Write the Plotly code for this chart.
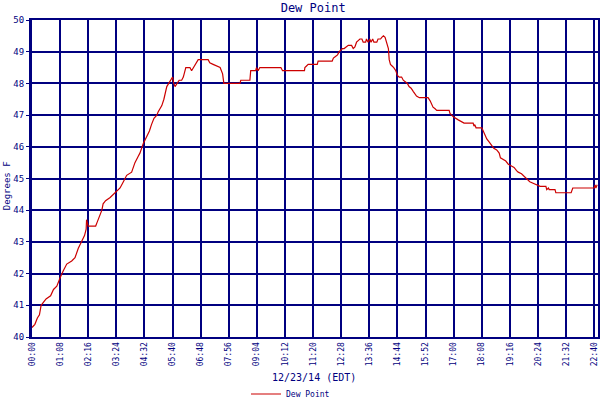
import plotly.graph_objects as go

# --- дані ---
times = [
    "00:00", "00:07", "00:13", "00:18", "00:22", "00:27", "00:34", "00:45", "00:52", "01:00",
    "01:05", "01:09", "01:16", "01:24", "01:36", "01:44", "01:52", "02:00", "02:07", "02:11",
    "02:12", "02:16", "02:34", "02:37", "02:44", "02:49", "02:52", "02:58", "03:09", "03:17",
    "03:23", "03:33", "03:41", "03:49", "04:01", "04:09", "04:17", "04:21", "04:29", "04:37",
    "04:44", "04:49", "04:55", "05:02", "05:05", "05:14", "05:19", "05:26", "05:30", "05:35",
    "05:40", "05:43", "05:46", "05:51", "05:56", "06:02", "06:06", "06:12", "06:22", "06:26",
    "06:30", "06:34", "06:38", "06:42", "07:06", "07:10", "07:18", "07:35", "07:41", "07:44",
    "08:23", "08:25", "08:47", "08:49", "09:01", "09:03", "09:07", "09:11", "10:02", "10:06",
    "10:59", "11:00", "11:04", "11:08", "11:30", "11:32", "12:06", "12:09", "12:14", "12:19",
    "12:23", "12:31", "12:35", "12:45", "12:53", "12:57", "13:01", "13:05", "13:09", "13:13",
    "13:18", "13:21", "13:27", "13:29", "13:33", "13:37", "13:40", "13:44", "13:47", "13:54",
    "13:57", "14:03", "14:06", "14:10", "14:14", "14:16", "14:19", "14:22", "14:24", "14:27",
    "14:31", "14:35", "14:40", "14:42", "14:44", "14:48", "14:54", "14:58", "15:02", "15:08",
    "15:12", "15:17", "15:22", "15:26", "15:30", "15:37", "15:58", "16:03", "16:07", "16:10",
    "16:15", "16:19", "16:49", "16:51", "16:55", "16:59", "17:11", "17:25", "17:47", "17:49",
    "17:51", "17:54", "18:08", "18:11", "18:15", "18:20", "18:26", "18:32", "18:37", "18:44",
    "18:50", "18:53", "19:00", "19:06", "19:12", "19:20", "19:26", "19:32", "19:36", "19:44",
    "19:52", "19:58", "20:04", "20:12", "20:22", "20:29", "20:43", "20:45", "20:49", "20:51",
    "21:05", "21:07", "21:44", "21:48", "22:40", "22:42", "22:44", "22:47",
]
dew_point = [
    40.3, 40.4, 40.6, 40.7, 41.0, 41.1, 41.2, 41.3, 41.5, 41.6,
    41.8, 41.9, 42.1, 42.3, 42.4, 42.5, 42.8, 43.0, 43.2, 43.4,
    43.7, 43.5, 43.5, 43.6, 43.8, 44.0, 44.2, 44.3, 44.4, 44.5,
    44.6, 44.7, 44.9, 45.1, 45.2, 45.5, 45.7, 45.8, 46.1, 46.3,
    46.5, 46.7, 46.9, 47.0, 47.1, 47.3, 47.5, 47.9, 48.0, 48.1,
    48.2, 48.0, 47.9, 48.0, 48.1, 48.1, 48.2, 48.5, 48.5, 48.4,
    48.5, 48.6, 48.7, 48.75, 48.75, 48.65, 48.6, 48.5, 48.3, 48.0,
    48.0, 48.1, 48.1, 48.4, 48.4, 48.5, 48.4, 48.5, 48.5, 48.4,
    48.4, 48.5, 48.55, 48.6, 48.6, 48.7, 48.7, 48.8, 48.85, 48.9,
    49.0, 49.1, 49.1, 49.2, 49.2, 49.1, 49.15, 49.3, 49.35, 49.4,
    49.4, 49.3, 49.3, 49.4, 49.3, 49.4, 49.3, 49.4, 49.3, 49.3,
    49.4, 49.4, 49.45, 49.5, 49.45, 49.35, 49.25, 49.1, 48.75, 48.6,
    48.55, 48.5, 48.4, 48.3, 48.25, 48.2, 48.2, 48.1, 48.05, 48.0,
    47.9, 47.85, 47.75, 47.65, 47.6, 47.55, 47.55, 47.45, 47.35, 47.25,
    47.2, 47.15, 47.15, 47.05, 47.0, 46.95, 46.85, 46.75, 46.75, 46.65,
    46.7, 46.6, 46.6, 46.5, 46.4, 46.25, 46.15, 46.05, 45.95, 45.9,
    45.8, 45.65, 45.6, 45.55, 45.45, 45.4, 45.35, 45.25, 45.2, 45.15,
    45.05, 45.0, 44.9, 44.85, 44.8, 44.75, 44.75, 44.65, 44.7, 44.65,
    44.65, 44.55, 44.55, 44.7, 44.7, 44.8, 44.7, 44.8,
]
tick_labels = [
    "00:00", "01:08", "02:16", "03:24", "04:32", "05:40", "06:48", "07:56",
    "09:04", "10:12", "11:20", "12:28", "13:36", "14:44", "15:52", "17:00",
    "18:08", "19:16", "20:24", "21:32", "22:40", "22:47",
]


def to_min(s):
    h, m = s.split(":")
    return int(h) * 60 + int(m)


x = [to_min(t) for t in times]
navy = "#000080"
mono = "DejaVu Sans Mono"

fig = go.Figure()
fig.add_trace(go.Scatter(x=x, y=dew_point, mode="lines", name="Dew Point",
                         line=dict(color="#CC0000", width=1.2)))

fig.update_layout(
    width=600, height=400,
    margin=dict(l=32, r=2, t=20, b=63, autoexpand=False),
    paper_bgcolor="white", plot_bgcolor="white",
    title=dict(text="Dew Point", xref="container", x=0.522, xanchor="center",
               yref="container", y=0.98, yanchor="middle",
               font=dict(family=mono, size=12, color=navy)),
    font=dict(family=mono, color=navy),
    showlegend=True,
    legend=dict(orientation="h", xref="container", x=0.41, xanchor="left",
                yref="container", y=0.015, yanchor="middle",
                font=dict(family=mono, size=8, color=navy), itemwidth=30),
)

# підписи осей
fig.add_annotation(text="Degrees F", xref="paper", yref="paper", x=-0.044, y=0.476,
                   xanchor="center", yanchor="middle",
                   textangle=-90, showarrow=False,
                   font=dict(family=mono, size=9, color=navy))
fig.add_annotation(text="12/23/14 (EDT)", xref="paper", yref="paper", x=0.498, y=-0.129,
                   xanchor="center", yanchor="middle",
                   showarrow=False, font=dict(family=mono, size=10, color=navy))

fig.update_xaxes(
    range=[0, 1369], tickvals=[to_min(t) for t in tick_labels], ticktext=tick_labels,
    tickangle=-90, tickfont=dict(family=mono, size=8, color=navy),
    showgrid=True, gridcolor=navy, gridwidth=1.5,
    showline=True, linecolor=navy, linewidth=2, mirror=True,
    zeroline=False, ticks="", automargin=False,
)
fig.update_yaxes(
    range=[40, 50], dtick=1, tickfont=dict(family=mono, size=9, color=navy),
    showgrid=True, gridcolor=navy, gridwidth=1.5,
    showline=True, linecolor=navy, linewidth=3, mirror=True,
    zeroline=False, ticks="outside", ticklen=3, tickcolor=navy, automargin=False,
)

fig.write_html("out.html", config={"displayModeBar": False},
               post_script="document.body.style.margin='0';")
